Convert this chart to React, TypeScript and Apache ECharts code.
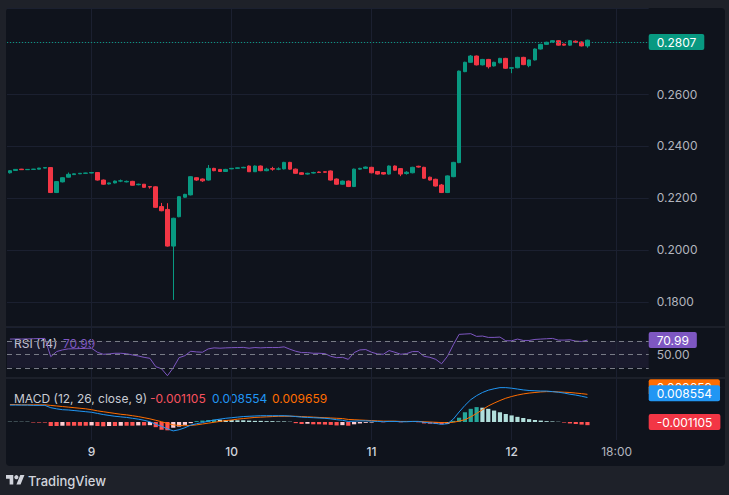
import React, { useEffect, useRef } from "react";
import * as echarts from "echarts";

// ---------- data ----------
const startDay = 8;
const startHour = 10;
const slotCount = 110;
const categories: string[] = [];
for (let k = 0; k < slotCount; k++) {
  const t = startHour + k;
  const d = startDay + Math.floor(t / 24);
  const h = t % 24;
  categories.push(`${d} ${String(h).padStart(2, "0")}:00`);
}

const xTickIndex = [14, 38, 62, 86, 104];
const xTickLabels = ["9", "10", "11", "12", "18:00"];
const priceTickLabels = ["0.1800", "0.2000", "0.2200", "0.2400", "0.2600"];

const open = [
  0.2297, 0.2306, 0.2311, 0.2309, 0.231, 0.2311, 0.2315, 0.2317, 0.2221, 0.2262,
  0.228, 0.229, 0.2293, 0.2295, 0.2296, 0.2298, 0.2269, 0.2254, 0.2258, 0.2265,
  0.2262, 0.2264, 0.2251, 0.2253, 0.2244, 0.2243, 0.2167, 0.2156, 0.2015, 0.2128,
  0.2203, 0.2212, 0.2278, 0.2273, 0.2269, 0.2314, 0.231, 0.2302, 0.2312, 0.2314,
  0.2316, 0.2323, 0.2301, 0.2323, 0.2305, 0.2313, 0.2311, 0.2312, 0.2337, 0.2311,
  0.2297, 0.2292, 0.2296, 0.23, 0.2301, 0.2304, 0.2273, 0.2253, 0.2265, 0.2244,
  0.2311, 0.2314, 0.2318, 0.2302, 0.2298, 0.2292, 0.2323, 0.2313, 0.2294, 0.2297,
  0.2322, 0.2318, 0.228, 0.2272, 0.225, 0.2221, 0.2282, 0.2336, 0.2686, 0.2722,
  0.2746, 0.2712, 0.2733, 0.2708, 0.272, 0.2737, 0.2699, 0.2701, 0.2741, 0.2709,
  0.2731, 0.2773, 0.2791, 0.28, 0.2805, 0.2792, 0.2788, 0.2803, 0.28, 0.2785,
];
const close = [
  0.2305, 0.231, 0.2309, 0.231, 0.2311, 0.2315, 0.2317, 0.2221, 0.2263, 0.2278,
  0.2291, 0.2293, 0.2295, 0.2296, 0.2298, 0.2269, 0.2253, 0.2258, 0.2265, 0.2266,
  0.2264, 0.2249, 0.2253, 0.2241, 0.2242, 0.2164, 0.2151, 0.2015, 0.2122, 0.2205,
  0.2214, 0.2282, 0.2269, 0.2266, 0.2314, 0.2305, 0.2302, 0.231, 0.2314, 0.2316,
  0.2318, 0.2301, 0.2323, 0.2305, 0.2311, 0.2311, 0.2312, 0.2337, 0.2311, 0.2295,
  0.2291, 0.2295, 0.2298, 0.2298, 0.2299, 0.2269, 0.2253, 0.2265, 0.2244, 0.2311,
  0.2314, 0.2319, 0.2297, 0.2292, 0.2292, 0.2323, 0.2307, 0.2292, 0.2299, 0.2318,
  0.2319, 0.2276, 0.2269, 0.2246, 0.2221, 0.2285, 0.2337, 0.2688, 0.2722, 0.2746,
  0.2712, 0.2733, 0.2705, 0.2722, 0.2737, 0.2699, 0.2701, 0.2741, 0.2713, 0.2731,
  0.2773, 0.2791, 0.2799, 0.2805, 0.2788, 0.2788, 0.2805, 0.2799, 0.2785, 0.2807,
];
const low = [
  0.2294, 0.2305, 0.2308, 0.2308, 0.2309, 0.231, 0.2314, 0.2219, 0.2219, 0.226,
  0.2279, 0.2289, 0.2292, 0.2294, 0.2295, 0.2267, 0.2251, 0.2252, 0.2256, 0.2261,
  0.226, 0.2248, 0.2249, 0.224, 0.2236, 0.2162, 0.2149, 0.2013, 0.1808, 0.2126,
  0.2201, 0.221, 0.2266, 0.2262, 0.2267, 0.2303, 0.23, 0.23, 0.2311, 0.2313,
  0.2315, 0.23, 0.23, 0.2303, 0.2303, 0.2305, 0.2307, 0.231, 0.2309, 0.2293,
  0.2289, 0.229, 0.2294, 0.2296, 0.2297, 0.2267, 0.2251, 0.2251, 0.2242, 0.2242,
  0.2309, 0.2312, 0.2295, 0.229, 0.229, 0.229, 0.2305, 0.2284, 0.229, 0.2295,
  0.2317, 0.2274, 0.2267, 0.2244, 0.2219, 0.2219, 0.228, 0.2334, 0.2684, 0.272,
  0.271, 0.271, 0.2698, 0.2706, 0.2718, 0.2697, 0.268, 0.2699, 0.2711, 0.2703,
  0.2729, 0.2771, 0.2789, 0.2798, 0.2786, 0.2786, 0.2786, 0.2796, 0.2783, 0.2778,
];
const high = [
  0.2307, 0.2311, 0.2312, 0.2311, 0.2312, 0.2316, 0.2318, 0.2319, 0.2265, 0.228,
  0.2298, 0.2294, 0.2296, 0.2297, 0.2299, 0.2299, 0.2271, 0.2259, 0.2267, 0.2271,
  0.2267, 0.2266, 0.2255, 0.2254, 0.2246, 0.2245, 0.2181, 0.218, 0.2124, 0.2207,
  0.2216, 0.2284, 0.228, 0.2275, 0.2327, 0.2316, 0.2311, 0.2312, 0.2315, 0.2317,
  0.232, 0.2325, 0.2325, 0.2325, 0.2316, 0.232, 0.2318, 0.2339, 0.2339, 0.2313,
  0.2299, 0.2297, 0.2301, 0.2302, 0.2302, 0.2306, 0.2275, 0.2267, 0.2267, 0.2313,
  0.2316, 0.2321, 0.232, 0.2304, 0.23, 0.2325, 0.2325, 0.2315, 0.2303, 0.232,
  0.2324, 0.232, 0.2282, 0.2274, 0.2254, 0.2287, 0.2339, 0.269, 0.2724, 0.275,
  0.2748, 0.2735, 0.2735, 0.2724, 0.2739, 0.2739, 0.2703, 0.2743, 0.2743, 0.2733,
  0.2775, 0.2793, 0.2801, 0.2807, 0.2807, 0.2794, 0.2807, 0.2806, 0.2802, 0.2809,
];

const rsi = [
  72.5, 72.7, 72.6, 72.8, 73.0, 73.3, 73.5, 46.5, 54.0, 56.5,
  58.0, 58.2, 58.5, 58.8, 59.0, 53.0, 50.0, 50.5, 51.5, 51.5,
  50.8, 49.0, 47.5, 45.5, 44.0, 31.7, 28.5, 18.3, 30.0, 45.0,
  48.0, 54.5, 53.5, 53.0, 58.0, 59.5, 59.0, 59.5, 59.8, 60.0,
  60.2, 59.0, 60.0, 59.5, 60.0, 60.0, 60.0, 61.0, 57.5, 54.5,
  52.5, 52.5, 51.5, 51.5, 51.0, 47.0, 45.0, 45.5, 42.5, 52.5,
  56.5, 57.0, 53.0, 50.5, 50.0, 55.5, 53.0, 50.0, 51.0, 54.0,
  54.0, 47.0, 45.5, 42.5, 36.0, 47.0, 64.0, 79.5, 80.0, 80.5,
  76.5, 77.0, 75.0, 75.0, 75.5, 70.0, 70.0, 72.5, 70.5, 70.5,
  72.0, 72.5, 73.0, 73.5, 71.0, 71.0, 71.5, 69.5, 69.0, 70.99,
];
const rsiLevels = [70, 50, 30];

const macdLine = [
  0.0059, 0.0059, 0.0059, 0.0059, 0.0058, 0.0058, 0.0058, 0.005, 0.0046, 0.0043,
  0.0042, 0.004, 0.0038, 0.0036, 0.0034, 0.003, 0.0026, 0.0023, 0.002, 0.0018,
  0.0016, 0.0013, 0.001, 0.0006, 0.0001, -0.0008, -0.0015, -0.0024, -0.0031, -0.0027,
  -0.002, -0.0011, -0.0006, -0.0002, 0.0003, 0.0007, 0.001, 0.0013, 0.0015, 0.0017,
  0.0019, 0.002, 0.0021, 0.0022, 0.0022, 0.0022, 0.0022, 0.0022, 0.0021, 0.0019,
  0.0017, 0.0016, 0.0015, 0.0014, 0.0013, 0.0011, 0.0008, 0.0006, 0.0002, 0.0003,
  0.0004, 0.0004, 0.0003, 0.0002, 0.0001, 0.0002, 0.0002, 0.0001, 0.0001, 0.0002,
  0.0002, -0.0001, -0.0003, -0.0005, -0.0008, -0.0006, 0.001, 0.0035, 0.0058, 0.0078,
  0.0092, 0.0103, 0.0111, 0.0116, 0.012, 0.012, 0.0118, 0.0115, 0.0112, 0.011,
  0.0109, 0.0108, 0.0108, 0.0106, 0.0104, 0.0101, 0.0097, 0.0094, 0.009, 0.008554,
];
const signalLine = [
  0.0061, 0.0061, 0.006, 0.006, 0.006, 0.006, 0.006, 0.0058, 0.0056, 0.0054,
  0.0052, 0.005, 0.0048, 0.0046, 0.0043, 0.0039, 0.0036, 0.0033, 0.003, 0.0027,
  0.0025, 0.0022, 0.0019, 0.0015, 0.0011, 0.0006, 0.0001, -0.0005, -0.001, -0.0012,
  -0.0013, -0.0012, -0.001, -0.0007, -0.0004, -0.0001, 0.0002, 0.0005, 0.0007, 0.001,
  0.0012, 0.0014, 0.0016, 0.0017, 0.0018, 0.0019, 0.002, 0.002, 0.002, 0.002,
  0.0019, 0.0018, 0.0017, 0.0016, 0.0015, 0.0014, 0.0013, 0.0012, 0.0009, 0.0008,
  0.0007, 0.0006, 0.0005, 0.0004, 0.0003, 0.0003, 0.0003, 0.0002, 0.0002, 0.0002,
  0.0002, 0.0001, 0.0, -0.0001, -0.0002, -0.0002, -0.0001, 0.0003, 0.0008, 0.0018,
  0.003, 0.0043, 0.0056, 0.0066, 0.0075, 0.0083, 0.0089, 0.0094, 0.0098, 0.0101,
  0.0103, 0.0105, 0.0106, 0.0106, 0.0105, 0.0104, 0.0103, 0.0101, 0.0099, 0.009659,
];
const histogram = [
  0.0001, 0.0001, 0.0001, 0.0001, -0.0002, -0.0002, -0.0002, -0.0014, -0.0014, -0.0013,
  -0.0013, -0.0013, -0.0013, -0.0013, -0.0012, -0.0014, -0.0015, -0.0014, -0.0014, -0.0013,
  -0.0013, -0.0013, -0.0012, -0.0012, -0.0011, -0.0018, -0.0027, -0.0029, -0.002, -0.0016,
  -0.001, -0.0004, 0.0003, 0.0005, 0.0007, 0.0008, 0.0008, 0.0007, 0.0007, 0.0006,
  0.0006, 0.0005, 0.0004, 0.0004, 0.0003, 0.0003, 0.0002, 0.0002, 0.0001, -0.0004,
  -0.0007, -0.0006, -0.0008, -0.0008, -0.0009, -0.001, -0.0012, -0.0011, -0.0013, -0.0008,
  -0.0005, -0.0003, -0.0002, 0.0001, -0.0001, 0.0001, 0.0001, -0.0001, 0.0001, 0.0001,
  -0.0001, -0.0005, -0.0006, -0.0007, -0.0008, -0.0006, 0.0004, 0.0015, 0.0034, 0.0046,
  0.0052, 0.005, 0.0046, 0.004, 0.0034, 0.0028, 0.0023, 0.0018, 0.0014, 0.001,
  0.0007, 0.0005, 0.0003, 0.0002, 0.0001, -0.0002, -0.0005, -0.0007, -0.0009, -0.001105,
];

const lastPriceText = "0.2807";
const lastRsiText = "70.99";
const histText = "-0.001105";
const macdText = "0.008554";
const signalText = "0.009659";

// ---------- style ----------
const FONT = "Inter, 'Noto Sans', sans-serif";
const UP = "#089981";
const DOWN = "#f23645";
const GRID_LINE = "#1b2030";
const SEP = "#2a2e39";
const TEXT = "#b2b5be";
const LEGEND = "#c9ccd4";
const RSI_C = "#7e57c2";
const MACD_C = "#2196f3";
const SIG_C = "#ff6d00";
const H_UP = "#26a69a";
const H_UP_FADE = "#b2dfdb";
const H_DN = "#ff5252";
const H_DN_FADE = "#ffcdd2";

const GL = 7;
const GW = 641.7;

echarts.graphic.registerShape(
  "tvlogo",
  echarts.graphic.extendPath("M14 22H7V11H0V4h14v18zM28 22h-8l7.5-18h8L28 22z", {})
);

const boxLabel = (text: string, bg: string, extra: any = {}) => ({
  show: true,
  position: "end",
  distance: 0,
  formatter: text,
  backgroundColor: bg,
  color: "#ffffff",
  fontFamily: FONT,
  fontSize: 12,
  padding: [2, 8, 2, 8],
  borderRadius: 2,
  ...extra,
});

function buildOption(): any {
  const candleData = open.map((o, i) => [o, close[i], low[i], high[i]]);
  const gridLinesSeries = [0, 1, 2].map((g) => ({
    type: "line",
    xAxisIndex: g,
    yAxisIndex: g,
    data: [],
    silent: true,
    z: 1,
    markLine: {
      silent: true,
      z: 1,
      symbol: ["none", "none"],
      label: { show: false },
      lineStyle: { color: GRID_LINE, width: 1, type: "solid" },
      data: xTickIndex.map((i) => ({ xAxis: categories[i] })),
    },
  }));

  return {
    animation: false,
    backgroundColor: "transparent",
    grid: [
      { left: GL, top: 8, width: GW, height: 319 },
      { left: GL, top: 327, width: GW, height: 51 },
      { left: GL, top: 378, width: GW, height: 62 },
    ],
    xAxis: [0, 1, 2].map((g) => ({
      type: "category",
      gridIndex: g,
      data: categories,
      boundaryGap: true,
      axisLine: { show: false },
      axisTick: { show: false },
      splitLine: { show: false },
      axisLabel:
        g === 2
          ? {
              show: true,
              margin: 5,
              interval: (index: number) => xTickIndex.includes(index),
              formatter: (_v: string, index: number) => {
                const k = xTickIndex.indexOf(index);
                if (k < 0) return "";
                return k === 4 ? `{t|${xTickLabels[k]}}` : `{d|${xTickLabels[k]}}`;
              },
              rich: {
                d: { color: "#d1d4dc", fontSize: 12, fontFamily: FONT, fontWeight: 500 },
                t: { color: TEXT, fontSize: 12, fontFamily: FONT },
              },
            }
          : { show: false },
    })),
    yAxis: [
      {
        type: "value",
        gridIndex: 0,
        position: "right",
        min: 0.17038,
        max: 0.29308,
        splitNumber: 5,
        minInterval: 0.02,
        maxInterval: 0.02,
        axisLine: { show: false },
        axisTick: { show: false },
        splitLine: { show: true, lineStyle: { color: GRID_LINE, width: 1 } },
        axisLabel: {
          show: true,
          margin: 8,
          color: TEXT,
          fontSize: 12,
          fontFamily: FONT,
          showMinLabel: false,
          showMaxLabel: false,
          formatter: (v: number) => {
            const s = v.toFixed(4);
            return priceTickLabels.includes(s) ? s : "";
          },
        },
      },
      { type: "value", gridIndex: 1, min: 14.9, max: 90.4, show: false, splitLine: { show: false } },
      { type: "value", gridIndex: 2, min: -0.00628, max: 0.01536, show: false, splitLine: { show: false } },
    ],
    series: [
      ...gridLinesSeries,
      {
        type: "candlestick",
        xAxisIndex: 0,
        yAxisIndex: 0,
        data: candleData,
        barWidth: "70%",
        z: 3,
        itemStyle: { color: UP, color0: DOWN, borderColor: UP, borderColor0: DOWN, borderWidth: 1 },
        markLine: {
          silent: true,
          symbol: ["none", "none"],
          lineStyle: { color: UP, type: [1, 2], width: 1 },
          label: boxLabel(lastPriceText, UP),
          data: [{ yAxis: close[close.length - 1] }],
        },
      },
      {
        type: "line",
        xAxisIndex: 1,
        yAxisIndex: 1,
        data: rsi,
        symbol: "none",
        z: 3,
        lineStyle: { color: RSI_C, width: 1 },
        markArea: {
          silent: true,
          itemStyle: { color: "rgba(126, 87, 194, 0.1)" },
          data: [[{ yAxis: rsiLevels[0] }, { yAxis: rsiLevels[2] }]],
        },
        markLine: {
          silent: true,
          symbol: ["none", "none"],
          lineStyle: { color: "#787b86", type: [5, 4], width: 1 },
          label: { show: false },
          data: [
            { yAxis: rsiLevels[0] },
            {
              yAxis: rsiLevels[1],
              label: boxLabel("50.00", "transparent", { color: TEXT }),
            },
            { yAxis: rsiLevels[2] },
            {
              yAxis: rsi[rsi.length - 1],
              lineStyle: { color: "transparent" },
              label: boxLabel(lastRsiText, RSI_C),
            },
          ],
        },
      },
      {
        type: "bar",
        xAxisIndex: 2,
        yAxisIndex: 2,
        data: histogram,
        barWidth: "72%",
        z: 2,
        itemStyle: {
          color: (p: any) => {
            const i = p.dataIndex;
            const v = histogram[i];
            const prev = i > 0 ? histogram[i - 1] : v;
            if (v >= 0) return v > prev ? H_UP : H_UP_FADE;
            return v > prev ? H_DN_FADE : H_DN;
          },
        },
        markLine: {
          silent: true,
          symbol: ["none", "none"],
          lineStyle: { color: "transparent" },
          label: boxLabel(histText, DOWN),
          data: [{ yAxis: histogram[histogram.length - 1] }],
        },
      },
      {
        type: "line",
        xAxisIndex: 2,
        yAxisIndex: 2,
        data: signalLine,
        symbol: "none",
        z: 3,
        lineStyle: { color: SIG_C, width: 1 },
        markLine: {
          silent: true,
          symbol: ["none", "none"],
          lineStyle: { color: "transparent" },
          label: boxLabel(signalText, SIG_C, { offset: [0, -6] }),
          data: [{ yAxis: signalLine[signalLine.length - 1] }],
        },
      },
      {
        type: "line",
        xAxisIndex: 2,
        yAxisIndex: 2,
        data: macdLine,
        symbol: "none",
        z: 4,
        lineStyle: { color: MACD_C, width: 1 },
        markLine: {
          silent: true,
          symbol: ["none", "none"],
          lineStyle: { color: "transparent" },
          label: boxLabel(macdText, MACD_C),
          data: [{ yAxis: macdLine[macdLine.length - 1] }],
        },
      },
    ],
    graphic: [
      { type: "line", silent: true, shape: { x1: 6, y1: 327, x2: 725, y2: 327 }, style: { stroke: SEP, lineWidth: 1 } },
      { type: "line", silent: true, shape: { x1: 6, y1: 378, x2: 725, y2: 378 }, style: { stroke: SEP, lineWidth: 1 } },
      { type: "text", x: 14, y: 343, style: { text: "RSI (14)", fill: LEGEND, fontSize: 12, fontFamily: FONT, verticalAlign: "middle" } },
      { type: "text", x: 63, y: 343, style: { text: lastRsiText, fill: RSI_C, fontSize: 12, fontFamily: FONT, verticalAlign: "middle" } },
      { type: "text", x: 14, y: 398, style: { text: "MACD (12, 26, close, 9)", fill: LEGEND, fontSize: 12, fontFamily: FONT, verticalAlign: "middle" } },
      { type: "text", x: 150, y: 398, style: { text: histText, fill: "#f7525f", fontSize: 12, fontFamily: FONT, verticalAlign: "middle" } },
      { type: "text", x: 212, y: 398, style: { text: macdText, fill: MACD_C, fontSize: 12, fontFamily: FONT, verticalAlign: "middle" } },
      { type: "text", x: 272, y: 398, style: { text: signalText, fill: SIG_C, fontSize: 12, fontFamily: FONT, verticalAlign: "middle" } },
      { type: "tvlogo", x: 6, y: 473, scaleX: 0.52, scaleY: 0.52, style: { fill: "#d1d4dc" } },
      { type: "circle", shape: { cx: 16.4, cy: 477.2, r: 2.1 }, style: { fill: "#d1d4dc" } },
      { type: "text", x: 28, y: 481, style: { text: "TradingView", fill: "#d1d4dc", fontSize: 13, fontWeight: 500, fontFamily: FONT, verticalAlign: "middle" } },
    ],
  };
}

export default function App() {
  const ref = useRef<HTMLDivElement>(null);
  useEffect(() => {
    if (!ref.current) return;
    const chart = echarts.init(ref.current, undefined, { renderer: "svg" });
    chart.setOption(buildOption());
    return () => chart.dispose();
  }, []);
  return (
    <div style={{ position: "fixed", left: 0, top: 0, width: 729, height: 495, background: "#1e2129", overflow: "hidden" }}>
      <div style={{ position: "absolute", left: 6, top: 8, width: 719, height: 458, background: "#0f131c", borderRadius: 4 }} />
      <div ref={ref} style={{ position: "absolute", left: 0, top: 0, width: 729, height: 495 }} />
    </div>
  );
}
